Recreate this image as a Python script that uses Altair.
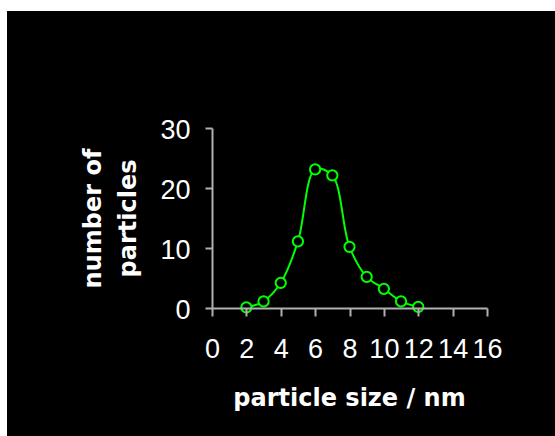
import altair as alt
import pandas as pd

sizes = [2, 3, 4, 5, 6, 7, 8, 9, 10, 11, 12]
counts = [0.1, 1.1, 4.2, 11.1, 23.1, 22.1, 10.2, 5.2, 3.2, 1.1, 0.2]
x_ticks = [0, 2, 4, 6, 8, 10, 12, 14, 16]
y_ticks = [0, 10, 20, 30]

df = pd.DataFrame({"size": sizes, "count": counts})

GREEN = "#00ff00"
AXIS = "#b0b0b0"

xenc = alt.X("size:Q", scale=alt.Scale(domain=[0, 16], nice=False),
             axis=alt.Axis(values=x_ticks, title="particle size / nm", grid=False, zindex=1,
                           domainColor=AXIS, domainWidth=2, tickColor=AXIS, tickWidth=2,
                           tickSize=8, labelColor="white", labelFont="Liberation Sans",
                           labelFontSize=27, labelPadding=20, labelFlush=False,
                           labelOverlap=False, labelBound=False,
                           titleColor="white", titleFont="DejaVu Sans", titleFontWeight="bold",
                           titleFontSize=24, titleBaseline="alphabetic", titleY=97,
                           titleX=137, titleAlign="center"))
yenc = alt.Y("count:Q", scale=alt.Scale(domain=[0, 30], nice=False),
             axis=alt.Axis(values=y_ticks, title=["number of", "particles"], grid=False, zindex=1,
                           domainColor=AXIS, domainWidth=2, tickColor=AXIS, tickWidth=2,
                           tickSize=7, labelColor="white", labelFont="Liberation Sans",
                           labelFontSize=27, labelPadding=15, labelBaseline="alphabetic",
                           labelOffset=10, labelFlush=False, labelOverlap=False,
                           titleColor="white", titleFont="DejaVu Sans", titleFontWeight="bold",
                           titleFontSize=24, titleLineHeight=35, titleAngle=-90,
                           titleBaseline="alphabetic", titleX=-112, titleY=90,
                           titleAlign="center"))

bg = alt.Chart(alt.Data(values=[{}])).mark_rect(color="black").encode(
    x=alt.value(-205), x2=alt.value(343), y=alt.value(-117), y2=alt.value(308)
)

line = alt.Chart(df).mark_line(color=GREEN, strokeWidth=2, interpolate="catmull-rom").encode(
    x=xenc, y=yenc
)
pts = alt.Chart(df).mark_point(shape="circle", size=105, stroke=GREEN, strokeWidth=2,
                               fill="black", filled=False, fillOpacity=1, opacity=1).encode(
    x=xenc, y=yenc
)

chart = alt.layer(bg, line, pts).properties(
    width=275, height=180,
    autosize=alt.AutoSizeParams(type="none"),
    padding={"left": 212, "top": 128, "right": 68, "bottom": 128},
    background="white",
).configure_view(stroke=None)

chart.save("out.html", embed_options={"renderer": "svg", "actions": False})
